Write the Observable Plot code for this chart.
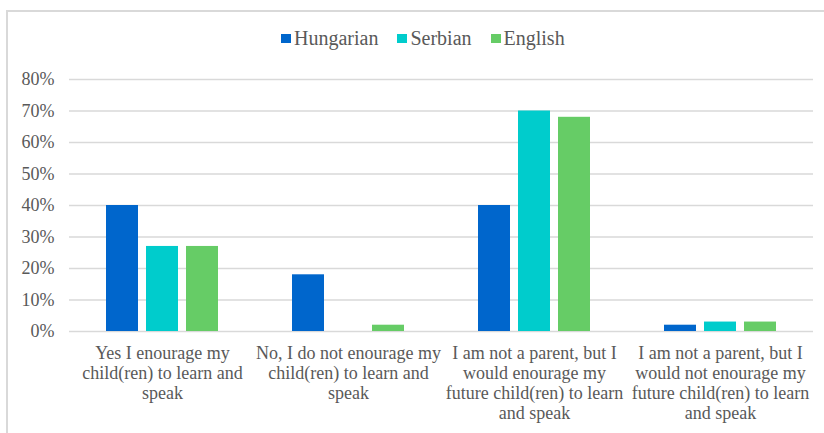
<!DOCTYPE html>
<html><head><meta charset="utf-8">
<script src="https://cdn.jsdelivr.net/npm/d3@7"></script>
<script src="https://cdn.jsdelivr.net/npm/@observablehq/plot@0.6"></script>
<style>
body{margin:0;background:#fff;font-family:'Liberation Serif';}
#wrap{position:relative;width:824px;height:433px;overflow:hidden;font-family:'Liberation Serif';color:#595959;}
#frame{position:absolute;left:6px;top:10px;width:830px;height:440px;border:2px solid #d9d9d9;box-sizing:border-box;}
#legend{position:absolute;top:27px;left:281px;display:flex;align-items:center;font-size:20px;white-space:nowrap;font-family:'Liberation Serif';}
#legend .item{display:flex;align-items:center;margin-right:19px;}
#legend .sw{width:10px;height:9px;margin-right:3px;display:inline-block;}
#chart{position:absolute;left:0;top:60px;}
</style></head>
<body>
<div id="wrap"><div id="frame"></div><div id="legend"></div><div id="chart"></div></div>
<script>
const categories = ["Yes", "No", "NotParentWould", "NotParentWouldNot"];
const tickLabels = [
  "Yes I enourage my\nchild(ren) to learn and\nspeak",
  "No, I do not enourage my\nchild(ren) to learn and\nspeak",
  "I am not a parent, but I\nwould enourage my\nfuture child(ren) to learn\nand speak",
  "I am not a parent, but I\nwould not enourage my\nfuture child(ren) to learn\nand speak"
];
const series = ["Hungarian", "Serbian", "English"];
const colors = ["#0066CC", "#00CCCC", "#66CC66"];
const hungarian = [40, 18, 40, 2];
const serbian = [27, 0, 70, 3];
const english = [27, 2, 68, 3];
const yTicks = [0, 10, 20, 30, 40, 50, 60, 70, 80];

const values = [hungarian, serbian, english];
const rows = [];
categories.forEach((c, i) => series.forEach((s, j) => rows.push({category: c, series: s, value: values[j][i]})));

const FONT = "Liberation Serif";

const legend = document.getElementById("legend");
series.forEach((s, j) => {
  const it = document.createElement("div"); it.className = "item";
  const sw = document.createElement("span"); sw.className = "sw"; sw.style.background = colors[j];
  const tx = document.createElement("span"); tx.textContent = s;
  it.appendChild(sw); it.appendChild(tx); legend.appendChild(it);
});

const chart = Plot.plot({
  width: 824, height: 373,
  marginTop: 19, marginBottom: 102, marginLeft: 68, marginRight: 11,
  style: {fontFamily: FONT, fontSize: "18px", color: "#595959", background: "transparent"},
  fx: {domain: categories, padding: 0},
  x: {domain: series, axis: null, paddingInner: 0.207, paddingOuter: 0.872},
  y: {domain: [0, 80]},
  color: {domain: series, range: colors},
  marks: [
    Plot.gridY(yTicks, {stroke: "#d9d9d9", strokeOpacity: 1, strokeWidth: 1.5}),
    Plot.barY(rows, {fx: "category", x: "series", y: "value", fill: "series"}),
    Plot.axisY(yTicks, {tickSize: 0, tickPadding: 15, fontSize: 18, fontFamily: FONT, fill: "#595959", tickFormat: d => d + "%", label: null}),
    Plot.axisFx({anchor: "bottom", tickSize: 0, tickPadding: 13, fontSize: 18, fontFamily: FONT, lineHeight: 1.11, fill: "#595959", label: null,
      tickFormat: d => tickLabels[categories.indexOf(d)]})
  ]
});
document.getElementById("chart").appendChild(chart);
</script>
</body></html>
